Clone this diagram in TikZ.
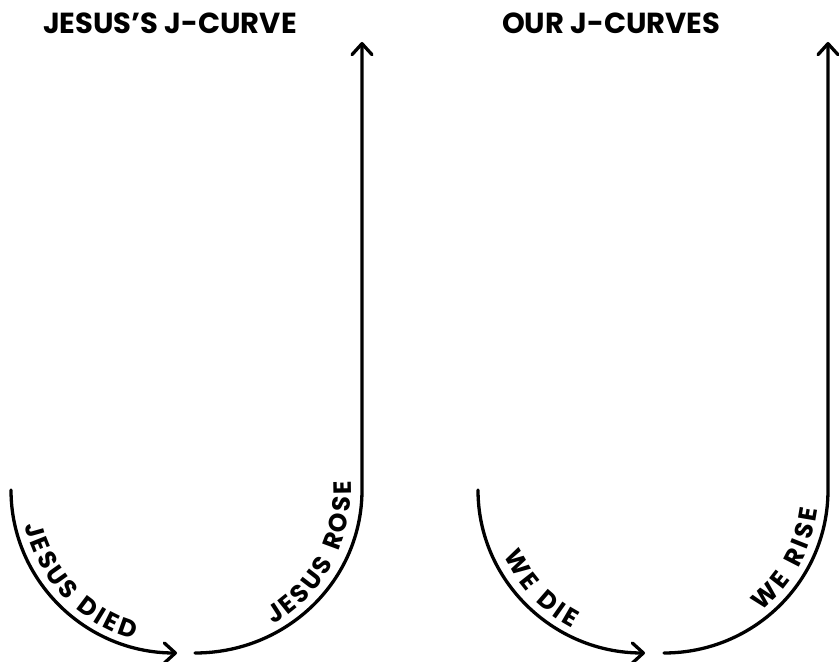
\documentclass[tikz,border=0pt]{standalone}
\usepackage{fontspec}
\setmainfont{Poppins}
\usetikzlibrary{arrows.meta,calc}
\newcommand\pathfont{\bfseries\fontsize{25}{27}\selectfont}
% #1 name prefix, #2 centre, #3 radius, #4 middle angle, #5 tracking, #6 character/width list (~ = space)
\newcommand\arctext[6]{%
  \xdef\totlen{0}%
  \foreach \ch/\lw in {#6} {\pgfmathsetmacro\nl{\totlen+\lw+#5}\xdef\totlen{\nl}}%
  \xdef\curlen{0}%
  \foreach \ch/\lw [count=\i] in {#6} {%
    \pgfmathsetmacro\ang{#4+(\curlen+(\lw+#5)/2-\totlen/2)/#3*180/pi}%
    \node[letter, rotate=\ang+90] (#1\i) at ($(#2)+(\ang:#3)$) {\ch};
    \pgfmathsetmacro\nl{\curlen+\lw+#5}\xdef\curlen{\nl}%
  }%
}
\begin{document}
\begin{tikzpicture}[x=1pt,y=1pt,
  curve/.style={line width=3.3pt, line cap=round},
  tipped/.style={-{Straight Barb[length=11pt,width=20pt,line cap=round,line join=round]}},
  ttl/.style={anchor=base west, inner sep=0pt, font=\bfseries\fontsize{29}{31}\selectfont},
  letter/.style={anchor=base, inner sep=0pt, font=\pathfont},
]
\useasboundingbox (0,0) rectangle (839,662);
\coordinate (L1s) at (11,172);
\coordinate (L2s) at (195,9);
\coordinate (R1s) at (478,172);
\coordinate (R2s) at (664,9);
\coordinate (Ltop) at (362,620);
\coordinate (Rtop) at (828,620);
\coordinate (CL1) at (177,172);
\coordinate (CL2) at (195,172);
\coordinate (CR1) at (645,172);
\coordinate (CR2) at (664,172);

\node[ttl] (t1) at (43,628) {JESUS’S J-CURVE};
\node[ttl] (t2) at (502,628) {OUR J-CURVES};

\draw[curve,tipped] (L1s) arc[start angle=180,end angle=270,x radius=166,y radius=163];
\draw[curve,tipped] (L2s) arc[start angle=270,end angle=360,x radius=167,y radius=163] -- (Ltop);
\draw[curve,tipped] (R1s) arc[start angle=180,end angle=270,x radius=167,y radius=163];
\draw[curve,tipped] (R2s) arc[start angle=270,end angle=360,x radius=164,y radius=163] -- (Rtop);

\arctext{jd}{CL1}{156}{223.5}{3}{J/13,E/14,S/15,U/17.3,S/15,~/6.5,D/17.5,I/7,E/14,D/17.5}
\arctext{jr}{CL2}{156}{332}{3}{J/13,E/14,S/15,U/17.3,S/15,~/6.5,R/16,O/19,S/15,E/14}
\arctext{wd}{CR1}{156}{223.8}{3.5}{W/25,E/14,~/6.5,D/17.5,I/7,E/14}
\arctext{wr}{CR2}{155}{331}{3.5}{W/25,E/14,~/6.5,R/16,I/7,S/15,E/14}
\end{tikzpicture}
\end{document}
